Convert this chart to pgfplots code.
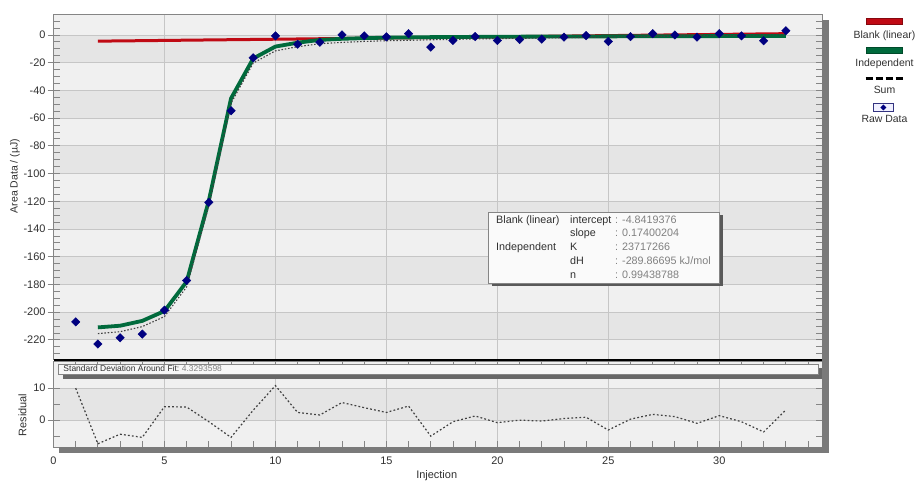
\documentclass[border=0pt]{standalone}
\usepackage{fontspec}
\setmainfont{Liberation Sans}
\usepackage{pgfplots}
\pgfplotsset{compat=1.18}
\usepackage{pgfplotstable}
\definecolor{bandL}{HTML}{F0F0F0}
\definecolor{bandD}{HTML}{E5E5E5}
\definecolor{gridc}{HTML}{C6C6C6}
\definecolor{framec}{HTML}{858585}
\definecolor{shadowc}{HTML}{7A7A7A}
\definecolor{blankred}{RGB}{192,10,20}
\definecolor{indepgreen}{RGB}{0,106,60}
\definecolor{rawnavy}{RGB}{0,0,128}
\definecolor{sumgray}{HTML}{404040}
\definecolor{valgray}{HTML}{808080}
\definecolor{ticklab}{HTML}{303030}

\pgfplotstableread{
inj area
1 -207.0
2 -223.0
3 -218.5
4 -215.8
5 -198.6
6 -177.2
7 -120.8
8 -54.7
9 -16.5
10 -0.7
11 -6.7
12 -5.3
13 0.0
14 -0.7
15 -1.4
16 0.9
17 -8.8
18 -4.0
19 -1.2
20 -4.0
21 -3.3
22 -3.0
23 -1.6
24 -0.5
25 -4.7
26 -1.2
27 0.9
28 0.0
29 -1.6
30 0.9
31 -0.7
32 -4.2
33 3.0
}\rawdata

\pgfplotstableread{
inj blank indep sum
2 -4.49 -211.0 -215.5
3 -4.32 -209.8 -214.1
4 -4.15 -206.3 -210.45
5 -3.97 -199.2 -203.2
6 -3.80 -178.0 -181.8
7 -3.62 -119.5 -123.1
8 -3.45 -45.8 -49.25
9 -3.28 -17.0 -20.3
10 -3.10 -8.4 -11.5
11 -2.93 -5.6 -8.5
12 -2.75 -3.6 -6.35
13 -2.58 -2.8 -5.4
14 -2.41 -2.3 -4.7
15 -2.23 -2.0 -4.2
16 -2.06 -1.8 -3.9
17 -1.88 -1.6 -3.5
18 -1.71 -1.5 -3.2
19 -1.54 -1.4 -2.9
20 -1.36 -1.3 -2.65
21 -1.19 -1.25 -2.45
22 -1.01 -1.2 -2.2
23 -0.84 -1.15 -2.0
24 -0.67 -1.1 -1.75
25 -0.49 -1.05 -1.55
26 -0.32 -1.0 -1.3
27 -0.14 -0.95 -1.1
28 0.03 -0.9 -0.85
29 0.20 -0.9 -0.7
30 0.38 -0.85 -0.45
31 0.55 -0.8 -0.25
32 0.73 -0.8 -0.05
33 0.90 -0.75 0.15
}\fitdata

\pgfplotstableread{
inj res
1 10.0
2 -7.4
3 -4.4
4 -5.4
5 4.2
6 4.1
7 -0.5
8 -5.4
9 3.1
10 10.8
11 2.4
12 1.6
13 5.5
14 3.9
15 2.4
16 4.4
17 -5.0
18 -0.5
19 1.3
20 -0.8
21 0.0
22 -0.3
23 0.5
24 0.9
25 -3.1
26 0.3
27 1.8
28 1.1
29 -1.0
30 1.4
31 -0.5
32 -3.7
33 3.2
}\resdata

\pgfplotsset{
  commonaxis/.style={
    set layers,
    scale only axis,
    xmin=0, xmax=34.63,
    axis line style={framec, line width=0.8bp},
    tick align=inside,
    major tick length=6bp, minor tick length=6bp,
    tick style={framec, line width=0.8bp},
    xmajorgrids, ymajorgrids,
    grid style={gridc, line width=0.8bp},
    tick label style={font=\fontsize{11}{13}\selectfont, text=ticklab},
    /pgf/number format/assume math mode=true,
    yticklabel style={xshift=-4.5bp},
  }
}

\begin{document}
\begin{tikzpicture}
\begin{scope}[x=1bp,y=1bp]
\useasboundingbox (0,0) rectangle (918,483);
% frame shadows
\fill[shadowc] (822,30) rectangle (829,463);
\fill[shadowc] (59,30) rectangle (829,35.7);
\end{scope}

% ---------------- main plot ----------------
\begin{axis}[commonaxis,
  at={(53.5bp,124bp)}, anchor=south west,
  width=768.5bp, height=344.3bp,
  ymin=-233.8, ymax=14.6,
  xtick={5,10,...,30}, xticklabels={}, xtick style={draw=none},
  ytick={-220,-200,...,0},
  minor ytick={-230,-225,...,10},
  extra y ticks={-220,-200,...,0},
  extra y tick labels={},
  extra y tick style={tick align=outside, grid=none},
]
\begin{pgfonlayer}{axis background}
\fill[bandL] (axis cs:0,14.6) rectangle (axis cs:34.63,0);
\fill[bandD] (axis cs:0,0) rectangle (axis cs:34.63,-20);
\fill[bandL] (axis cs:0,-20) rectangle (axis cs:34.63,-40);
\fill[bandD] (axis cs:0,-40) rectangle (axis cs:34.63,-60);
\fill[bandL] (axis cs:0,-60) rectangle (axis cs:34.63,-80);
\fill[bandD] (axis cs:0,-80) rectangle (axis cs:34.63,-100);
\fill[bandL] (axis cs:0,-100) rectangle (axis cs:34.63,-120);
\fill[bandD] (axis cs:0,-120) rectangle (axis cs:34.63,-140);
\fill[bandL] (axis cs:0,-140) rectangle (axis cs:34.63,-160);
\fill[bandD] (axis cs:0,-160) rectangle (axis cs:34.63,-180);
\fill[bandL] (axis cs:0,-180) rectangle (axis cs:34.63,-200);
\fill[bandD] (axis cs:0,-200) rectangle (axis cs:34.63,-220);
\fill[bandL] (axis cs:0,-220) rectangle (axis cs:34.63,-233.8);
\end{pgfonlayer}
\addplot[blankred, line width=3bp, no markers] table[x=inj, y=blank] {\fitdata};
\addplot[indepgreen, line width=3.8bp, no markers] table[x=inj, y=indep] {\fitdata};
\addplot[sumgray, line width=1.1bp, dash pattern=on 1.5bp off 1.8bp, no markers] table[x=inj, y=sum] {\fitdata};
\addplot[only marks, mark=square*, mark size=3bp, mark options={rotate=45, fill=rawnavy, draw=rawnavy}] table[x=inj, y=area] {\rawdata};
\end{axis}

% ---------------- residual plot ----------------
\begin{axis}[commonaxis,
  at={(53.5bp,35.7bp)}, anchor=south west,
  width=768.5bp, height=86.3bp,
  ymin=-8.5, ymax=18.5,
  xtick={0,5,...,30},
  minor xtick={1,...,34},
  ytick={0,10}, minor ytick={-5,5},
  extra y ticks={0,10},
  extra y tick labels={},
  extra y tick style={tick align=outside, grid=none},
  xticklabel style={yshift=-6bp},
]
\begin{pgfonlayer}{axis background}
\fill[bandL] (axis cs:0,18.5) rectangle (axis cs:34.63,10);
\fill[bandD] (axis cs:0,10) rectangle (axis cs:34.63,0);
\fill[bandL] (axis cs:0,0) rectangle (axis cs:34.63,-8.5);
\end{pgfonlayer}
\addplot[sumgray, line width=1.2bp, dash pattern=on 1.8bp off 2.2bp, no markers] table[x=inj, y=res] {\resdata};
\end{axis}

\begin{scope}[x=1bp,y=1bp]
% separator line
\draw[black, line width=2.4bp] (53.5,123) -- (822,123);
% std dev box
\fill[shadowc!85!black] (62.5,104) rectangle (822,114.7);
\filldraw[fill=white!97!black, draw=framec, line width=0.7bp] (58.3,109) rectangle (818.3,118.7);
\node[anchor=base west, inner sep=0, font=\fontsize{8.5}{10}\selectfont, text=ticklab] at (63.3,111) {Standard Deviation Around Fit:};
\node[anchor=base west, inner sep=0, font=\fontsize{8.5}{10}\selectfont, text=valgray] at (181.7,111) {4.3293598};

% info box
\fill[black!65] (491.5,196.5) rectangle (722.5,267.5);
\filldraw[fill=white!98!black, draw=framec, line width=0.7bp] (488.3,199.7) rectangle (719.3,270.7);
\begin{scope}[every node/.style={anchor=base west, inner sep=0, font=\fontsize{10.8}{13}\selectfont, text=ticklab}]
\node at (496,259.8) {Blank (linear)};
\node at (570,259.8) {intercept};
\node[text=valgray] at (615,259.8) {: -4.8419376};
\node at (570,246) {slope};
\node[text=valgray] at (615,246) {: 0.17400204};
\node at (496,232.2) {Independent};
\node at (570,232.2) {K};
\node[text=valgray] at (615,232.2) {: 23717266};
\node at (570,218.4) {dH};
\node[text=valgray] at (615,218.4) {: -289.86695 kJ/mol};
\node at (570,204.6) {n};
\node[text=valgray] at (615,204.6) {: 0.99438788};
\end{scope}

% axis titles
\node[rotate=90, inner sep=0, font=\fontsize{10.5}{12}\selectfont, text=ticklab] at (15,307) {Area Data / (µJ)};
\node[rotate=90, inner sep=0, font=\fontsize{11}{13}\selectfont, text=ticklab] at (22.5,68) {Residual};
\node[inner sep=0, font=\fontsize{11}{13}\selectfont, text=ticklab] at (436.7,7.3) {Injection};

% legend
\begin{scope}[every node/.style={anchor=base, inner sep=0, font=\fontsize{10.5}{12}\selectfont, text=ticklab}]
\filldraw[fill=blankred, draw=blankred!70!black, line width=0.5bp] (866.7,458.3) rectangle (902.3,464.7);
\node at (884.5,444.7) {Blank (linear)};
\filldraw[fill=indepgreen, draw=indepgreen!70!black, line width=0.5bp] (866.7,429.7) rectangle (902.3,435.7);
\node at (884.5,416.3) {Independent};
\draw[black, line width=3.5bp, dash pattern=on 7.7bp off 2.3bp] (865.7,404.5) -- (903.4,404.5);
\node at (884.5,389) {Sum};
\filldraw[fill=blue!6!white, draw=rawnavy!60!gray, line width=0.6bp] (873.3,371.3) rectangle (893.3,379.7);
\fill[rawnavy] (883.3,378.5) -- (886.3,375.5) -- (883.3,372.5) -- (880.3,375.5) -- cycle;
\node at (884.5,360.7) {Raw Data};
\end{scope}
\end{scope}
\end{tikzpicture}
\end{document}
